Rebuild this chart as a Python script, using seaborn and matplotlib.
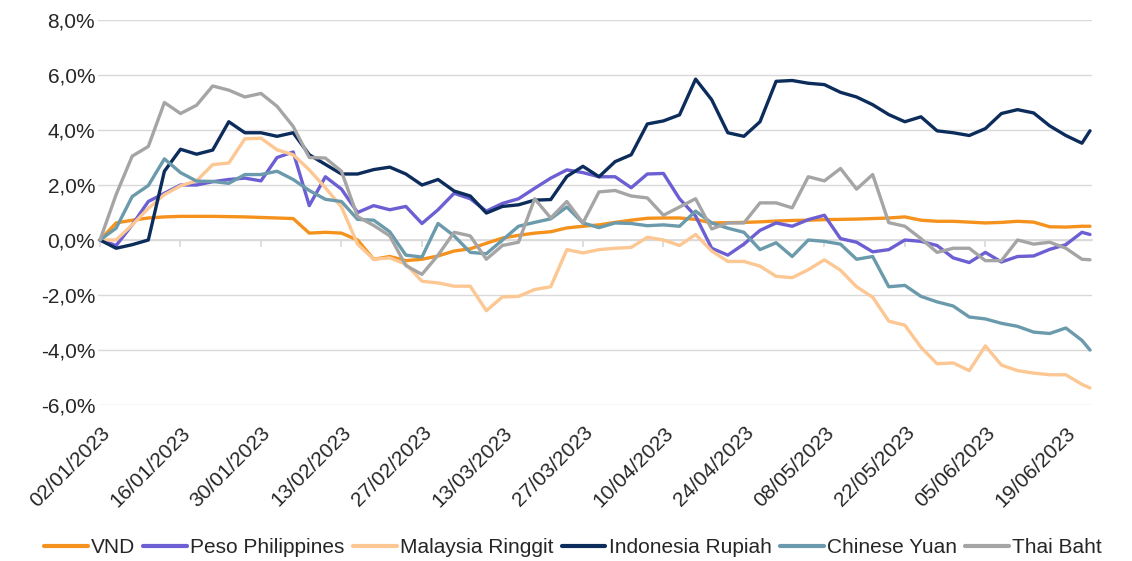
import matplotlib
matplotlib.use("Agg")
import matplotlib.pyplot as plt
from matplotlib.ticker import FuncFormatter
import seaborn as sns
import pandas as pd

# values read every 2nd business day from 02/01/2023, last point 22/06/2023
N_DAYS = 124
positions = list(range(0, N_DAYS, 2)) + [N_DAYS - 1]

vnd = [0.0, 0.62, 0.72, 0.8, 0.84, 0.86, 0.86, 0.86, 0.85, 0.84, 0.82, 0.8, 0.78, 0.25, 0.28, 0.25,
       0.0, -0.7, -0.6, -0.75, -0.7, -0.58, -0.4, -0.32, -0.12, 0.07, 0.17, 0.25, 0.3, 0.44, 0.5,
       0.55, 0.64, 0.72, 0.79, 0.8, 0.8, 0.75, 0.62, 0.63, 0.64, 0.66, 0.69, 0.71, 0.72, 0.74, 0.75,
       0.76, 0.78, 0.8, 0.84, 0.72, 0.68, 0.68, 0.65, 0.62, 0.64, 0.68, 0.65, 0.48, 0.47, 0.5, 0.5]
peso = [0.0, -0.2, 0.55, 1.4, 1.7, 2.0, 2.0, 2.12, 2.2, 2.25, 2.15, 3.0, 3.2, 1.25, 2.3, 1.85,
        1.0, 1.25, 1.1, 1.22, 0.6, 1.1, 1.7, 1.5, 1.05, 1.33, 1.5, 1.88, 2.25, 2.55, 2.45,
        2.3, 2.3, 1.9, 2.4, 2.42, 1.5, 0.87, -0.3, -0.55, -0.15, 0.35, 0.62, 0.5, 0.74, 0.9, 0.05,
        -0.08, -0.43, -0.35, 0.0, -0.05, -0.2, -0.65, -0.82, -0.45, -0.8, -0.6, -0.58, -0.34, -0.17, 0.28, 0.2]
ringgit = [0.0, 0.0, 0.55, 1.15, 1.65, 1.97, 2.15, 2.74, 2.8, 3.68, 3.7, 3.28, 3.1, 2.55, 1.9, 1.2,
           -0.15, -0.7, -0.65, -0.88, -1.5, -1.56, -1.68, -1.68, -2.57, -2.07, -2.05, -1.8, -1.7, -0.35, -0.47,
           -0.35, -0.3, -0.27, 0.1, 0.0, -0.2, 0.2, -0.4, -0.78, -0.78, -0.95, -1.32, -1.37, -1.08, -0.72, -1.1,
           -1.7, -2.08, -2.95, -3.1, -3.9, -4.5, -4.47, -4.75, -3.85, -4.55, -4.75, -4.84, -4.9, -4.9, -5.25, -5.38]
rupiah = [0.0, -0.3, -0.17, 0.0, 2.5, 3.3, 3.12, 3.27, 4.3, 3.9, 3.9, 3.77, 3.9, 3.1, 2.75, 2.4,
          2.4, 2.56, 2.65, 2.4, 2.0, 2.2, 1.78, 1.6, 0.98, 1.22, 1.28, 1.45, 1.47, 2.31, 2.68,
          2.3, 2.85, 3.1, 4.22, 4.33, 4.55, 5.85, 5.1, 3.9, 3.77, 4.3, 5.77, 5.8, 5.7, 5.65, 5.37,
          5.2, 4.92, 4.56, 4.3, 4.48, 3.97, 3.9, 3.8, 4.05, 4.6, 4.74, 4.62, 4.15, 3.8, 3.52, 3.97]
yuan = [0.0, 0.43, 1.58, 1.98, 2.95, 2.45, 2.14, 2.13, 2.06, 2.38, 2.38, 2.5, 2.2, 1.8, 1.48, 1.4,
        0.75, 0.72, 0.3, -0.55, -0.62, 0.6, 0.15, -0.45, -0.5, 0.0, 0.5, 0.64, 0.77, 1.2, 0.62,
        0.45, 0.62, 0.6, 0.52, 0.55, 0.5, 1.05, 0.62, 0.43, 0.28, -0.35, -0.1, -0.6, 0.0, -0.05, -0.15,
        -0.7, -0.6, -1.7, -1.65, -2.05, -2.25, -2.4, -2.8, -2.87, -3.03, -3.14, -3.35, -3.4, -3.2, -3.65, -4.0]
baht = [0.0, 1.65, 3.05, 3.4, 5.0, 4.6, 4.9, 5.6, 5.45, 5.2, 5.33, 4.86, 4.13, 3.0, 2.98, 2.5,
        0.85, 0.53, 0.15, -0.93, -1.25, -0.55, 0.28, 0.15, -0.7, -0.2, -0.08, 1.5, 0.8, 1.4, 0.62,
        1.75, 1.8, 1.6, 1.53, 0.9, 1.2, 1.5, 0.4, 0.62, 0.62, 1.35, 1.35, 1.17, 2.3, 2.15, 2.6,
        1.85, 2.38, 0.63, 0.5, 0.05, -0.45, -0.3, -0.3, -0.75, -0.75, 0.0, -0.15, -0.08, -0.3, -0.7, -0.72]

SERIES = {
    "VND": vnd,
    "Peso Philippines": peso,
    "Malaysia Ringgit": ringgit,
    "Indonesia Rupiah": rupiah,
    "Chinese Yuan": yuan,
    "Thai Baht": baht,
}
COLORS = {
    "VND": "#F5921E",
    "Peso Philippines": "#6B5FD3",
    "Malaysia Ringgit": "#FCC793",
    "Indonesia Rupiah": "#0C2C5C",
    "Chinese Yuan": "#6A9AAB",
    "Thai Baht": "#A5A5A5",
}

dates = pd.bdate_range("2023-01-02", periods=N_DAYS)

frames = []
for name, vals in SERIES.items():
    frames.append(pd.DataFrame({"pos": positions, "value": vals, "series": name}))
df = pd.concat(frames, ignore_index=True)

sns.set_theme(style="white")
plt.rcParams["font.family"] = ["Liberation Sans", "DejaVu Sans"]

fig = plt.figure(figsize=(11.32, 5.61), dpi=100)
ax = fig.add_axes([98 / 1132, 1 - 405 / 561, (1092 - 98) / 1132, (405 - 20) / 561])

sns.lineplot(data=df, x="pos", y="value", hue="series", hue_order=list(SERIES),
             palette=COLORS, linewidth=2.4, ax=ax, legend=True)

ax.set_xlim(-0.25, N_DAYS - 1 + 0.25)
ax.set_ylim(-6, 8)
ax.set_yticks(range(-6, 9, 2))
ax.yaxis.set_major_formatter(FuncFormatter(lambda v, _: f"{v:.1f}%".replace(".", ",")))
ax.grid(axis="y", color="#D9D9D9", linewidth=1)
ax.set_axisbelow(True)
for s in ax.spines.values():
    s.set_visible(False)

tick_pos = list(range(0, N_DAYS, 10))
ax.set_xticks(tick_pos)
ax.set_xticklabels([dates[i].strftime("%d/%m/%Y") for i in tick_pos], rotation=45,
                   ha="right", rotation_mode="anchor")
ax.tick_params(axis="x", length=0, pad=13, labelsize=15, labelcolor="#262626")
ax.tick_params(axis="y", length=0, pad=2, labelsize=15, labelcolor="#262626")
ax.set_xlabel("")
ax.set_ylabel("")

# category axis drawn at 0 %
zero_axis = ax.secondary_xaxis(6 / 14)
zero_axis.set_xticks(tick_pos)
zero_axis.set_xticklabels([])
zero_axis.tick_params(length=5, color="#D9D9D9", direction="out")
zero_axis.spines["bottom"].set_color("#D9D9D9")

handles, labels = ax.get_legend_handles_labels()
ax.get_legend().remove()
for h in handles:
    h.set_linewidth(3)
fig.legend(handles, labels, loc="center", bbox_to_anchor=(0.506, 0.024), ncol=6,
           frameon=False, fontsize=15, handlelength=2.1, handletextpad=0.15,
           columnspacing=0.4)

fig.savefig("out.png", dpi=100)
